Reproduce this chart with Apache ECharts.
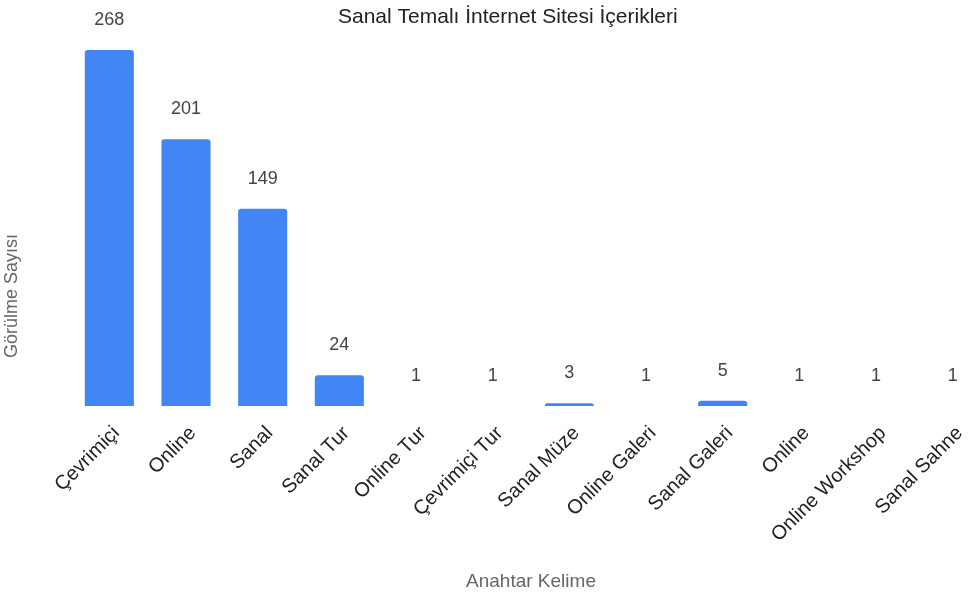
<!DOCTYPE html>
<html>
<head>
<meta charset="utf-8">
<script src="https://cdn.jsdelivr.net/npm/echarts@6/dist/echarts.min.js"></script>
<style>html,body{margin:0;padding:0;background:#fff}#c{width:970px;height:600px}</style>
</head>
<body>
<div id="c"></div>
<script>
const titleText = 'Sanal Temalı İnternet Sitesi İçerikleri';
const categories = ['Çevrimiçi', 'Online', 'Sanal', 'Sanal Tur', 'Online Tur', 'Çevrimiçi Tur', 'Sanal Müze', 'Online Galeri', 'Sanal Galeri', 'Online', 'Online Workshop', 'Sanal Sahne'];
const counts = [268, 201, 149, 24, 1, 1, 3, 1, 5, 1, 1, 1];
const xName = 'Anahtar Kelime';
const yName = 'Görülme Sayısı';

const chart = echarts.init(document.getElementById('c'), null, {renderer: 'canvas'});
const font = 'Arial, "Liberation Sans", sans-serif';
chart.setOption({
  animation: false,
  title: {
    text: titleText, left: 333, top: 2,
    textStyle: {fontFamily: font, fontSize: 21, fontWeight: 'normal', color: '#222'}
  },
  grid: {left: 71, width: 920, top: 50, height: 356, outerBoundsMode: 'none', containLabel: false},
  xAxis: {
    type: 'category', data: categories,
    name: xName, nameLocation: 'middle', nameGap: 166,
    nameTextStyle: {fontFamily: font, fontSize: 19, color: '#666'},
    axisLine: {show: false}, axisTick: {show: false},
    axisLabel: {rotate: 45, interval: 0, margin: 17, verticalAlign: 'top', fontFamily: font, fontSize: 20, color: '#222'}
  },
  yAxis: {
    type: 'value', min: 1, max: 268,
    name: yName, nameLocation: 'middle', nameGap: 50,
    nameTextStyle: {fontFamily: font, fontSize: 18, color: '#666', padding: [0, 136, 0, 0]},
    axisLine: {show: false}, axisTick: {show: false}, axisLabel: {show: false}, splitLine: {show: false}
  },
  series: [{
    type: 'bar', data: counts, barWidth: '64%',
    itemStyle: {color: '#4285F4', borderRadius: [3, 3, 0, 0]},
    label: {show: true, position: 'top', distance: 21, fontFamily: font, fontSize: 18, color: '#444'}
  }]
});
</script>
</body>
</html>
